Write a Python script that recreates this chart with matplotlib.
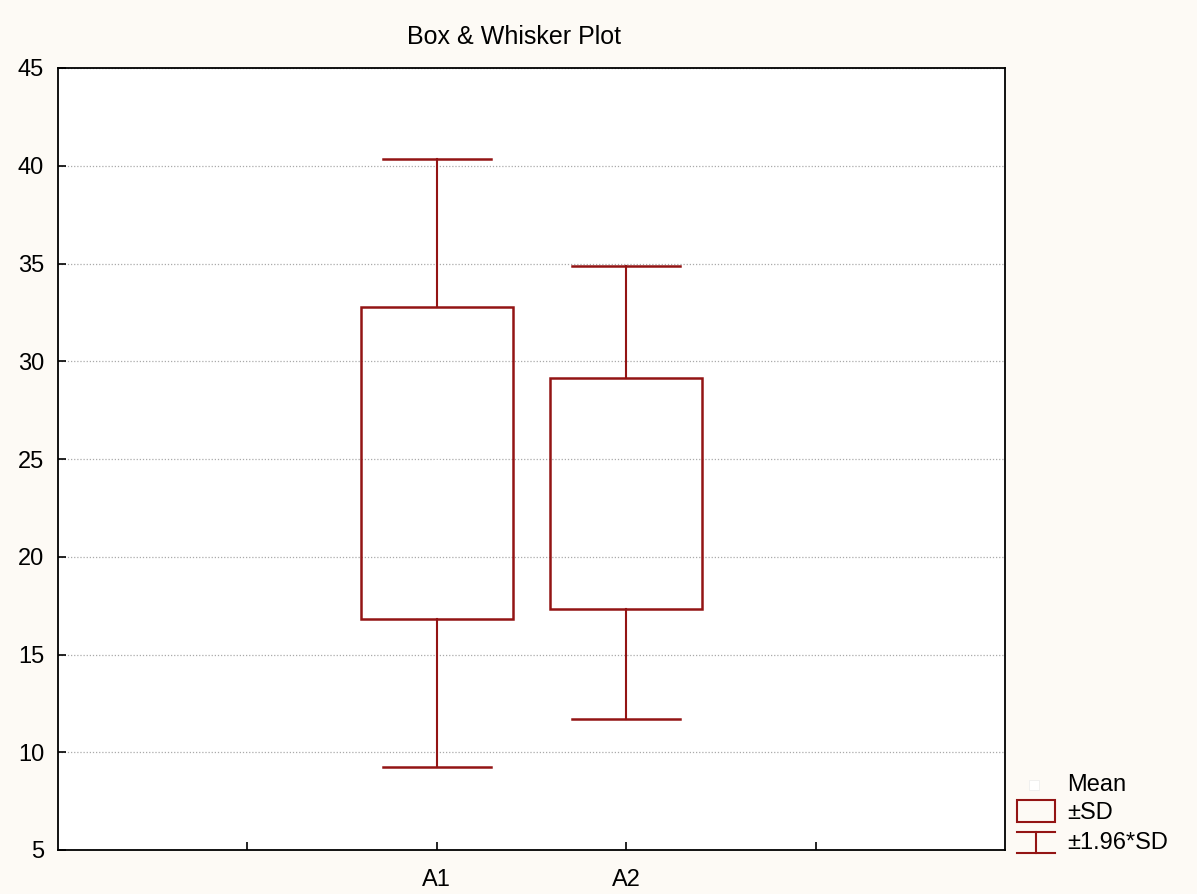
import matplotlib
matplotlib.use("Agg")
import matplotlib.pyplot as plt
from matplotlib.patches import Rectangle
from matplotlib.lines import Line2D

categories = ["A1", "A2"]
means = [24.8, 23.24]
sd_low = [16.82, 17.33]
sd_high = [32.79, 29.15]
ci_low = [9.25, 11.7]
ci_high = [40.36, 34.88]
x_ticklabels = ["", "A1", "A2", ""]
y_ticks = [5, 10, 15, 20, 25, 30, 35, 40, 45]

plt.rcParams['font.family'] = ['Liberation Sans', 'DejaVu Sans']
RED = "#931414"
BG = "#FDFAF5"
FS = 17

fig = plt.figure(figsize=(11.97, 8.94), dpi=100, facecolor=BG)
ax = fig.add_axes([58/1197, 1-850/894, (1005-58)/1197, (850-68)/894])
ax.set_facecolor("white")

box_w = 0.8
cap_w = 0.57
for i, c in enumerate(categories):
    ax.add_patch(Rectangle((i - box_w/2, sd_low[i]), box_w, sd_high[i]-sd_low[i],
                           fill=False, edgecolor=RED, lw=1.8, zorder=3))
    ax.plot([i, i], [sd_high[i], ci_high[i]], color=RED, lw=1.5, zorder=3)
    ax.plot([i, i], [ci_low[i], sd_low[i]], color=RED, lw=1.5, zorder=3)
    ax.plot([i - cap_w/2, i + cap_w/2], [ci_high[i]]*2, color=RED, lw=1.8, zorder=3)
    ax.plot([i - cap_w/2, i + cap_w/2], [ci_low[i]]*2, color=RED, lw=1.8, zorder=3)
    ax.plot([i], [means[i]], marker='s', ms=5, mfc='white', mec='white', zorder=4)

ax.set_xlim(-2, 3)
ax.set_ylim(5, 45)
ax.set_xticks([-1, 0, 1, 2])
ax.set_xticklabels(x_ticklabels, fontsize=FS)
ax.set_yticks(y_ticks)
ax.set_yticklabels([str(v) for v in y_ticks], fontsize=FS)
ax.tick_params(direction='in', length=6, width=1.2)
ax.tick_params(axis='x', pad=14)
ax.tick_params(axis='y', pad=10)
ax.yaxis.grid(True, linestyle=(0, (1, 1.5)), color='#aaaaaa', lw=0.9)
ax.set_axisbelow(True)
for s in ax.spines.values():
    s.set_linewidth(1.3)
    s.set_color('black')

fig.text(514/1197, 1-37/894, "Box & Whisker Plot", ha='center', va='center', fontsize=18)

# legend
def fx(px): return px/1197
def fy(py): return 1-py/894
fig.add_artist(Rectangle((fx(1029), fy(790)), 10/1197, 10/894, transform=fig.transFigure,
                         facecolor='white', edgecolor='#eeeeee', lw=0.6))
fig.text(fx(1067), fy(785), "Mean", ha='left', va='center', fontsize=FS)
fig.add_artist(Rectangle((fx(1017), fy(822)), 38/1197, 22/894, transform=fig.transFigure,
                         fill=False, edgecolor=RED, lw=1.5))
fig.text(fx(1067), fy(813), "±SD", ha='left', va='center', fontsize=FS)
fig.add_artist(Line2D([fx(1017), fx(1055)], [fy(832)]*2, transform=fig.transFigure, color=RED, lw=1.5))
fig.add_artist(Line2D([fx(1017), fx(1055)], [fy(853)]*2, transform=fig.transFigure, color=RED, lw=1.5))
fig.add_artist(Line2D([fx(1036), fx(1036)], [fy(832), fy(853)], transform=fig.transFigure, color=RED, lw=1.5))
fig.text(fx(1067), fy(843), "±1.96*SD", ha='left', va='center', fontsize=FS)

fig.savefig("out.png", dpi=100, facecolor=BG)
